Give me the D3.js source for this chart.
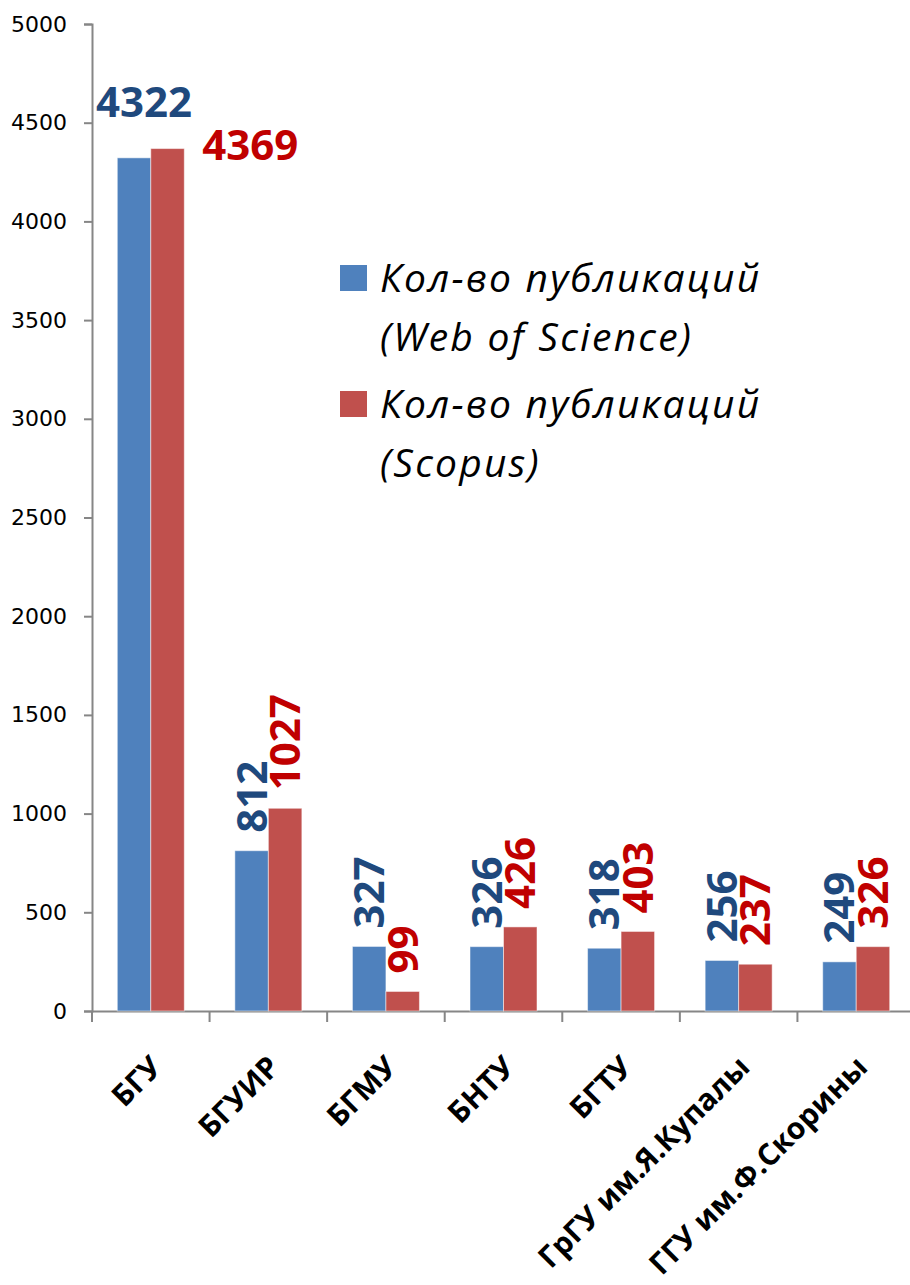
<!DOCTYPE html>
<html lang="ru">
<head>
<meta charset="UTF-8">
<script src="https://d3js.org/d3.v7.min.js"></script>
<title>Публикации</title>
<style>
  body { margin: 0; background: #fff; }
  svg { display: block; }
</style>
</head>
<body>
<svg id="chart" width="910" height="1285"></svg>
<script>
// data
var universities = ["БГУ", "БГУИР", "БГМУ", "БНТУ", "БГТУ", "ГрГУ им.Я.Купалы", "ГГУ им.Ф.Скорины"];
var wosValues    = [4322, 812, 327, 326, 318, 256, 249];
var scopusValues = [4369, 1027, 99, 426, 403, 237, 326];
var yTicks = [0, 500, 1000, 1500, 2000, 2500, 3000, 3500, 4000, 4500, 5000];
var seriesNames = ["Кол-во публикаций\n(Web of Science)", "Кол-во публикаций\n(Scopus)"];

var barColors = ["#4f81bd", "#c0504d"];
var labelColors = ["#1f497d", "#c00000"];

var svg = d3.select("#chart");
var axisColor = "#868686";

var x = d3.scaleBand().domain(universities).range([92, 915]).padding(0);
var y = d3.scaleLinear().domain([0, 5000]).range([1011, 24]);
var barW = 33.5;

// y axis
var yAxis = svg.append("g")
  .attr("transform", "translate(92,0)")
  .call(d3.axisLeft(y).tickValues(yTicks).tickSize(8).tickPadding(17).tickFormat(d3.format("d")));
yAxis.select(".domain").attr("stroke", axisColor).attr("stroke-width", 2);
yAxis.selectAll(".tick line").attr("stroke", axisColor).attr("stroke-width", 2);
yAxis.selectAll(".tick text")
  .attr("font-family", "'DejaVu Sans', sans-serif")
  .attr("font-size", 22)
  .attr("fill", "#000");

// x axis
var xAxis = svg.append("g")
  .attr("transform", "translate(0,1011)")
  .call(d3.axisBottom(x).tickSize(0).tickFormat(""));
xAxis.select(".domain").attr("stroke", axisColor).attr("stroke-width", 2);
var bounds = universities.map(function(d) { return x(d); }).concat([x.range()[1]]);
xAxis.selectAll(".sep")
  .data(bounds)
  .enter().append("line")
  .attr("class", "sep")
  .attr("x1", function(d) { return d; })
  .attr("x2", function(d) { return d; })
  .attr("y1", 0).attr("y2", 11)
  .attr("stroke", axisColor).attr("stroke-width", 2);

// bars
var series = [wosValues, scopusValues];
series.forEach(function(vals, s) {
  svg.append("g").selectAll("rect")
    .data(vals)
    .enter().append("rect")
    .attr("x", function(d, i) { return x(universities[i]) + x.bandwidth() / 2 - barW + s * barW; })
    .attr("y", function(d) { return y(d); })
    .attr("width", barW)
    .attr("height", function(d) { return y(0) - y(d); })
    .attr("fill", barColors[s])
    .attr("stroke", "#fff").attr("stroke-opacity", 0.5).attr("stroke-width", 1);
});

// value labels
var labelFont = "'Open Sans', sans-serif";
series.forEach(function(vals, s) {
  var g = svg.append("g");
  vals.forEach(function(v, i) {
    var cx = x(universities[i]) + x.bandwidth() / 2 - barW / 2 + s * barW;
    var t = g.append("text")
      .attr("font-family", labelFont)
      .attr("font-weight", "bold")
      .attr("font-size", 42)
      .attr("fill", labelColors[s])
      .text(v);
    if (i === 0) {
      // first group labels are horizontal
      if (s === 0) {
        t.attr("x", cx + 10).attr("y", y(v) - 41).attr("text-anchor", "middle");
      } else {
        t.attr("x", cx + barW / 2 + 18).attr("y", y(v) + 11).attr("text-anchor", "start");
      }
    } else {
      var px = cx + 15, py = y(v) - 18;
      t.attr("transform", "translate(" + px + "," + py + ") rotate(-90)")
        .attr("text-anchor", "start");
    }
  });
});

// category labels
svg.append("g").selectAll("text")
  .data(universities)
  .enter().append("text")
  .attr("transform", function(d) {
    return "translate(" + (x(d) + x.bandwidth() / 2 + 13) + ",1069) rotate(-45)";
  })
  .attr("text-anchor", "end")
  .attr("font-family", labelFont)
  .attr("font-weight", "bold")
  .attr("font-size", 30)
  .attr("fill", "#000")
  .text(function(d) { return d; });

// legend
var legend = svg.append("g");
seriesNames.forEach(function(name, s) {
  var top = 265 + s * 126;
  legend.append("rect")
    .attr("x", 340).attr("y", top)
    .attr("width", 27).attr("height", 26)
    .attr("fill", barColors[s]);
  var lines = name.split("\n");
  lines.forEach(function(line, k) {
    legend.append("text")
      .attr("x", 380)
      .attr("y", top + 27 + k * 59)
      .attr("font-family", labelFont)
      .attr("font-style", "italic")
      .attr("font-size", 39)
      .attr("letter-spacing", 2.2)
      .attr("fill", "#000")
      .text(line);
  });
});
</script>
</body>
</html>
